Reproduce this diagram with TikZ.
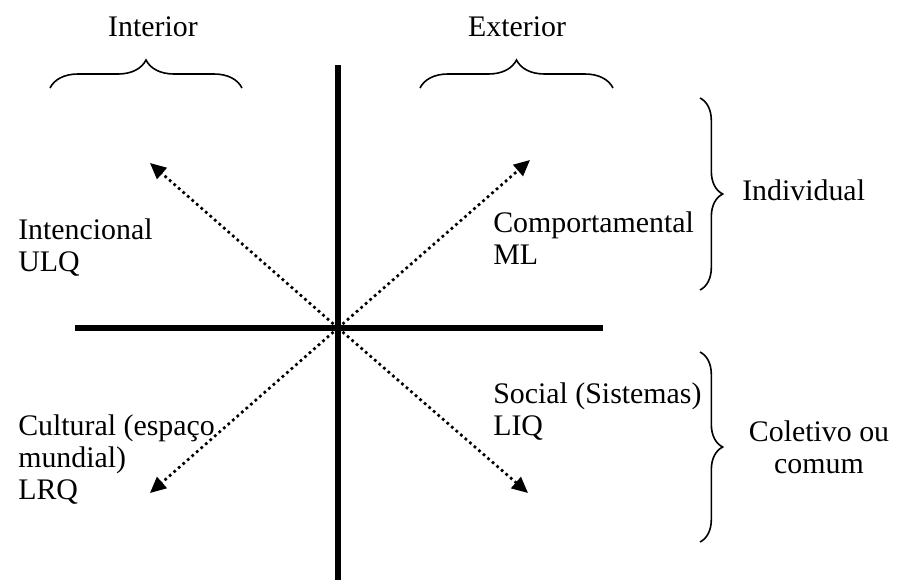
\documentclass[tikz,border=0pt]{standalone}
\usepackage{fontspec}
\setmainfont{Liberation Serif}
\usetikzlibrary{arrows.meta, decorations.pathreplacing}
\tikzstyle{axis} = [line width=3.8pt]
\tikzstyle{quadarrow} = [line width=2pt, dash pattern=on 2pt off 2.5pt, -{Triangle[length=12pt, width=11pt]}]
\tikzstyle{label} = [inner sep=0pt, align=left, font=\fontsize{22.4}{24}\selectfont]
\tikzstyle{curly} = [line width=1.2pt, decorate]

\begin{document}
\begin{tikzpicture}[x=0.75pt, y=-0.75pt]
\useasboundingbox (0,0) rectangle (897,586);

% axes
\coordinate (o) at (338,328);
\coordinate (top) at (338,65);
\coordinate (bot) at (338,580);
\coordinate (lft) at (75,328);
\coordinate (rgt) at (603,328);
\draw [axis] (top) -- (bot);
\draw [axis] (lft) -- (rgt);
\fill (o) circle (3.5pt);

% quadrant arrows
\coordinate (ul) at (150,163);
\coordinate (ur) at (530,160);
\coordinate (ll) at (150,493);
\coordinate (lr) at (528,493);
\draw [quadarrow] (o) -- (ul);
\draw [quadarrow] (o) -- (ur);
\draw [quadarrow] (o) -- (ll);
\draw [quadarrow] (o) -- (lr);

% quadrant labels
\node (ulq) [label, anchor=west] at (18,248) {Intencional\\ULQ};
\node (ml) [label, anchor=west] at (493,238) {Comportamental\\ML};
\node (liq) [label, anchor=west] at (493,412) {Social (Sistemas)\\LIQ};
\node (lrq) [label, anchor=west] at (18,460) {Cultural (espaço\\mundial)\\LRQ};

% braces
\coordinate (intA) at (50,88);
\coordinate (intB) at (242,88);
\coordinate (extA) at (420,88);
\coordinate (extB) at (613,88);
\coordinate (indA) at (700,98);
\coordinate (indB) at (700,290);
\coordinate (colA) at (700,352);
\coordinate (colB) at (700,542);
\draw [curly, decoration={brace, amplitude=21pt}] (intA) -- (intB);
\draw [curly, decoration={brace, amplitude=21pt}] (extA) -- (extB);
\draw [curly, decoration={brace, amplitude=17pt}] (indA) -- (indB);
\draw [curly, decoration={brace, amplitude=17pt}] (colA) -- (colB);

\node (interior) [label] at (153,27) {Interior};
\node (exterior) [label] at (517,27) {Exterior};
\node (individual) [label, anchor=west] at (742,190) {Individual};
\node (coletivo) [label, align=center] at (819,447) {Coletivo ou\\comum};
\end{tikzpicture}
\end{document}
